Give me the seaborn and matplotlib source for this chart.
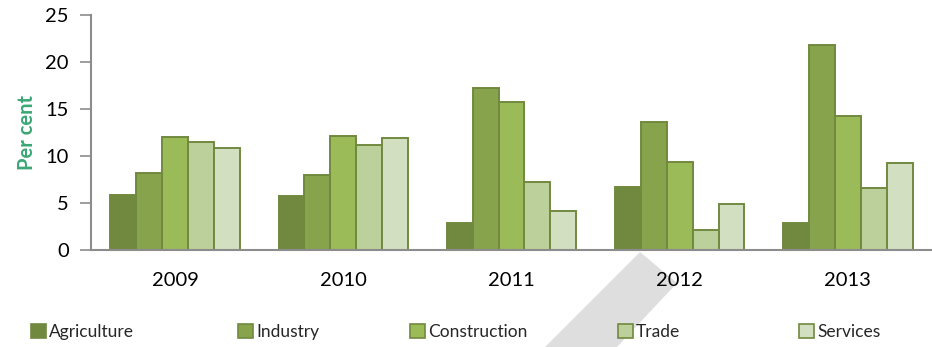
import matplotlib
matplotlib.use("Agg")
import matplotlib.pyplot as plt
from matplotlib.patches import Polygon, Patch
import seaborn as sns
import pandas as pd

years = ["2009", "2010", "2011", "2012", "2013"]
sectors = ["Agriculture", "Industry", "Construction", "Trade", "Services"]
agriculture = [5.9, 5.7, 2.9, 6.7, 2.9]
industry = [8.2, 8.0, 17.2, 13.6, 21.8]
construction = [12.0, 12.1, 15.7, 9.4, 14.3]
trade = [11.5, 11.2, 7.2, 2.1, 6.6]
services = [10.8, 11.9, 4.1, 4.9, 9.3]
y_ticks = [0, 5, 10, 15, 20, 25]

colors = ["#71893F", "#87A34C", "#9BBB59", "#BBD09A", "#D2DFC0"]
edge = "#71893F"

series = [agriculture, industry, construction, trade, services]
df = pd.DataFrame(
    [(y, s, v[i]) for s, v in zip(sectors, series) for i, y in enumerate(years)],
    columns=["Year", "Sector", "Value"],
)

sns.set_theme(style="white")
plt.rcParams["font.family"] = ["Lato", "DejaVu Sans"]

fig = plt.figure(figsize=(9.32, 3.47), dpi=100)
ax = fig.add_axes([0.0976, 0.2795, 0.9024, 0.6773])

sns.barplot(
    data=df, x="Year", y="Value", hue="Sector", order=years, hue_order=sectors,
    palette=colors, width=0.77, gap=0, edgecolor=edge, linewidth=1.4,
    legend=False, ax=ax, errorbar=None, saturation=1,
)

ax.set_xlim(-0.5, 4.5)
ax.set_ylim(0, 25)
ax.set_yticks(y_ticks)
ax.set_yticklabels([str(t) for t in y_ticks], fontsize=14.5, color="black")
ax.set_xticklabels(years, fontsize=14.5, color="black")
ax.set_xlabel("")
ax.set_ylabel("Per cent", fontsize=14.5, fontweight="bold", color="#3AA774")
ax.yaxis.set_label_coords(-0.064, 0.5)

for side in ["top", "right"]:
    ax.spines[side].set_visible(False)
for side in ["left", "bottom"]:
    ax.spines[side].set_color("#8C8C8C")
    ax.spines[side].set_linewidth(1.5)
ax.tick_params(axis="y", which="both", left=True, length=8, width=1.2, color="#8C8C8C", pad=8)
ax.tick_params(axis="x", bottom=False, pad=10)
ax.grid(False)

# one legend entry per sector, spread along the bottom
legend_x = [31, 238, 410, 618, 799]
for name, c, px in zip(sectors, colors, legend_x):
    fig.legend(
        [Patch(facecolor=c, edgecolor=edge, linewidth=1.2)], [name],
        loc="center left", bbox_to_anchor=(px / 932.0, 1 - 332 / 347.0),
        frameon=False, fontsize=12.5, handlelength=0.85, handleheight=0.85,
        handletextpad=0.2, borderaxespad=0, borderpad=0,
    )

# light grey chevron in the lower middle of the page
W, H = 932.0, 347.0
pts = [(545, 347), (640, 252), (677, 283), (617, 347)]
fig.patches.append(
    Polygon([(x / W, 1 - y / H) for x, y in pts], closed=True,
            transform=fig.transFigure, facecolor="#DEDEDE", edgecolor="none", zorder=-1)
)

fig.savefig("out.png", dpi=100)
